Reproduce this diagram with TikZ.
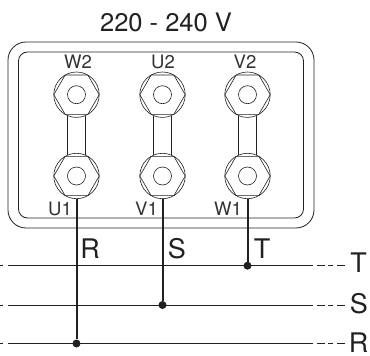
\documentclass[tikz,border=0pt]{standalone}
\usepackage{fontspec}
\setmainfont{TeX Gyre Heros}
\usetikzlibrary{calc,shapes.geometric}
\definecolor{inkline}{gray}{0.13}
\tikzset{
	thinline/.style={line width=0.8pt, color=inkline},
	wireline/.style={line width=2pt, color=inkline},
	tickline/.style={line width=0.8pt, color=inkline, dash pattern=on 8pt off 3pt on 5pt off 4pt},
	studring/.style={circle, draw=inkline, line width=0.6pt, minimum size=45.4pt, inner sep=0pt},
	studnut/.style={regular polygon, regular polygon sides=6, draw=inkline, line width=0.6pt, minimum size=45.4pt, inner sep=0pt},
	studhole/.style={circle, draw=inkline, line width=0.6pt, minimum size=18pt, inner sep=0pt},
	studlabel/.style={inner sep=0pt, font=\fontsize{18.5}{18.5}\selectfont, text=black!80},
	phaselabel/.style={inner sep=0pt, font=\fontsize{27}{27}\selectfont, text=inkline},
	joint/.style={circle, fill=inkline, minimum size=8pt, inner sep=0pt}
}
\begin{document}
\begin{tikzpicture}[x=1pt, y=-1pt]
			%%%%% START %%%%%
			\useasboundingbox (0, 0) rectangle (370, 356);
			
			\node[inner sep=0pt, font=\fontsize{25.5}{25.5}\selectfont, text=inkline] (title) at (166, 22) {220 - 240 V};
			
			\draw[thinline, rounded corners=18pt] (8, 42) rectangle (314, 228);
			\draw[thinline, rounded corners=9pt] (18.5, 52) rectangle (303.5, 218);
			
			% studs, top and bottom row
			\foreach \name/\x/\y in {W2/76.5/94.7, U2/162.5/94.7, V2/247.5/94.7, U1/76.5/176, V1/162.5/176, W1/247.5/176}{
				\node[studring] (\name) at (\x, \y) {};
				\node[studnut] at (\x, \y) {};
				\node[studhole] at (\x, \y) {};
			}
			
			% links
			\foreach \upper/\lower in {W2/U1, U2/V1, V2/W1}{
				\draw[thinline] ($(\upper.south)+(-8.7, -1.7)$) -- ($(\lower.north)+(-8.7, 1.7)$);
				\draw[thinline] ($(\upper.south)+(8.7, -1.7)$) -- ($(\lower.north)+(8.7, 1.7)$);
			}
			
			\node[studlabel] (lW2) at (78, 62) {W2};
			\node[studlabel] (lU2) at (163, 62) {U2};
			\node[studlabel] (lV2) at (245, 62) {V2};
			\node[studlabel] (lU1) at (60, 209) {U1};
			\node[studlabel] (lV1) at (146.5, 209) {V1};
			\node[studlabel] (lW1) at (228, 209) {W1};
			
			% supply lines
			\coordinate (tl) at (8, 265.7);
			\coordinate (tr) at (313, 265.7);
			\coordinate (sl) at (8, 305);
			\coordinate (sr) at (313, 305);
			\coordinate (rl) at (8, 343.5);
			\coordinate (rr) at (313, 343.5);
			\draw[thinline] (tl) -- (tr);
			\draw[thinline] (sl) -- (sr);
			\draw[thinline] (rl) -- (rr);
			
			\foreach \side in {t, s, r}{
				\draw[thinline] ($(\side l)+(-8, 0)$) -- ($(\side l)+(-5, 0)$);
				\draw[tickline] ($(\side r)+(4, 0)$) -- ($(\side r)+(32, 0)$);
			}
			
			% wires
			\node[joint] (jt) at (247.5, 265.7) {};
			\node[joint] (js) at (162.5, 305) {};
			\node[joint] (jr) at (76.5, 343.5) {};
			\draw[wireline] (U1.south) -- (jr);
			\draw[wireline] (V1.south) -- (js);
			\draw[wireline] (W1.south) -- (jt);
			
			\node[phaselabel] (wR) at (90, 249) {R};
			\node[phaselabel] (wS) at (177, 249) {S};
			\node[phaselabel] (wT) at (262, 249) {T};
			\node[phaselabel] (eT) at (358.5, 262.5) {T};
			\node[phaselabel] (eS) at (359, 304) {S};
			\node[phaselabel] (eR) at (358.5, 343) {R};
			
			%%%%% END %%%%%
\end{tikzpicture}
\end{document}
